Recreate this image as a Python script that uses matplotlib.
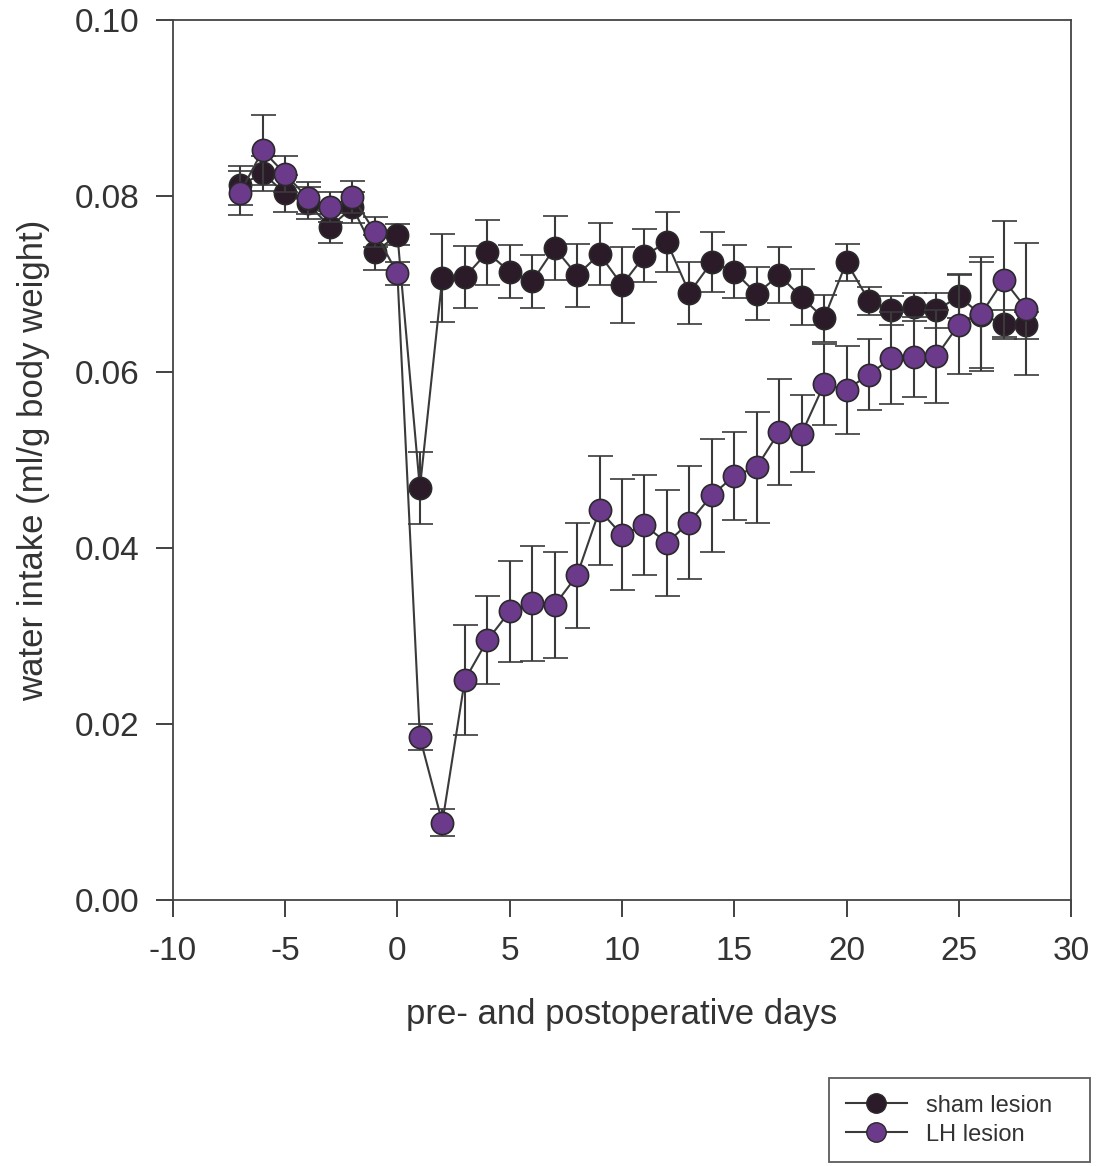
import numpy as np
import matplotlib
matplotlib.use('Agg')
import matplotlib.pyplot as plt
from matplotlib.lines import Line2D

plt.rcParams['font.family'] = ['Liberation Sans', 'DejaVu Sans']
plt.rcParams['axes.unicode_minus'] = False

# data
days = list(range(-7, 29))

sham_mean = [0.0812, 0.0826, 0.0803, 0.0792, 0.0765, 0.0787, 0.0736, 0.0756,
             0.0468, 0.0707, 0.0708, 0.0736, 0.0714, 0.0703, 0.0741, 0.0710,
             0.0734, 0.0699, 0.0732, 0.0748, 0.0690, 0.0725, 0.0714, 0.0689,
             0.0710, 0.0685, 0.0661, 0.0725, 0.0681, 0.0670, 0.0674, 0.0670,
             0.0686, 0.0665, 0.0655, 0.0653]
sham_err = [0.0022, 0.0020, 0.0021, 0.0018, 0.0018, 0.0018, 0.0020, 0.0012,
            0.0041, 0.0050, 0.0035, 0.0037, 0.0030, 0.0030, 0.0036, 0.0036,
            0.0035, 0.0043, 0.0030, 0.0034, 0.0035, 0.0034, 0.0030, 0.0030,
            0.0032, 0.0032, 0.0027, 0.0021, 0.0016, 0.0016, 0.0016, 0.0020,
            0.0025, 0.0060, 0.0015, 0.0015]

lh_mean = [0.0804, 0.0852, 0.0825, 0.0798, 0.0788, 0.0799, 0.0759, 0.0712,
           0.0185, 0.0088, 0.0250, 0.0295, 0.0328, 0.0337, 0.0335, 0.0369,
           0.0443, 0.0415, 0.0426, 0.0406, 0.0429, 0.0460, 0.0482, 0.0492,
           0.0532, 0.0530, 0.0586, 0.0580, 0.0597, 0.0616, 0.0617, 0.0618,
           0.0654, 0.0666, 0.0705, 0.0672]
lh_err = [0.0025, 0.0040, 0.0020, 0.0018, 0.0017, 0.0018, 0.0017, 0.0013,
          0.0015, 0.0015, 0.0062, 0.0050, 0.0057, 0.0065, 0.0060, 0.0060,
          0.0062, 0.0063, 0.0057, 0.0060, 0.0064, 0.0064, 0.0050, 0.0063,
          0.0060, 0.0044, 0.0046, 0.0050, 0.0040, 0.0052, 0.0045, 0.0053,
          0.0056, 0.0065, 0.0067, 0.0075]

sham_col = '#2b1b29'
lh_col = '#6b3a8a'
line_col = '#3a3a3a'

fig = plt.figure(figsize=(11.01, 11.66), dpi=100)
ax = fig.add_axes([0.157, 0.2281, 0.8158, 0.7547])

ax.errorbar(days, sham_mean, yerr=sham_err, color=line_col, lw=1.5,
            marker='o', ms=16, mfc=sham_col, mec='#2a2a2a', mew=1.2,
            ecolor=line_col, elinewidth=1.5, capsize=9, capthick=1.5, zorder=2)
ax.errorbar(days, lh_mean, yerr=lh_err, color=line_col, lw=1.5,
            marker='o', ms=16, mfc=lh_col, mec='#2a2a2a', mew=1.2,
            ecolor=line_col, elinewidth=1.5, capsize=9, capthick=1.5, zorder=3)

ax.set_xlim(-10, 30)
ax.set_ylim(0, 0.10)
ax.set_xticks(range(-10, 31, 5))
ax.set_yticks([0.0, 0.02, 0.04, 0.06, 0.08, 0.10])
ax.set_yticklabels(['0.00', '0.02', '0.04', '0.06', '0.08', '0.10'])
ax.tick_params(axis='both', direction='out', length=12, width=1.3,
               labelsize=24, colors='#333333')
ax.tick_params(axis='y', pad=12)
ax.tick_params(axis='x', pad=14)
for s in ax.spines.values():
    s.set_color('#444444')
    s.set_linewidth(1.3)

ax.set_xlabel('pre- and postoperative days', fontsize=25, color='#333333', labelpad=22)
ax.set_ylabel('water intake (ml/g body weight)', fontsize=25, color='#333333', labelpad=18)

handles = [Line2D([], [], color=line_col, lw=1.5, marker='o', ms=14,
                  mfc=sham_col, mec='#2a2a2a'),
           Line2D([], [], color=line_col, lw=1.5, marker='o', ms=14,
                  mfc=lh_col, mec='#2a2a2a')]
leg = fig.legend(handles, ['sham lesion', 'LH lesion'], loc='upper left',
                 bbox_to_anchor=(829 / 1101, 1 - 1163 / 1166, 261 / 1101, 85 / 1166),
                 mode='expand', borderaxespad=0,
                 fontsize=17, frameon=True, fancybox=False, edgecolor='#333333',
                 handlelength=2.6, handletextpad=0.8, borderpad=0.7,
                 labelspacing=0.3)
leg.get_frame().set_linewidth(1.3)
for t in leg.get_texts():
    t.set_color('#333333')

plt.savefig('out.png', dpi=100)
plt.close()
